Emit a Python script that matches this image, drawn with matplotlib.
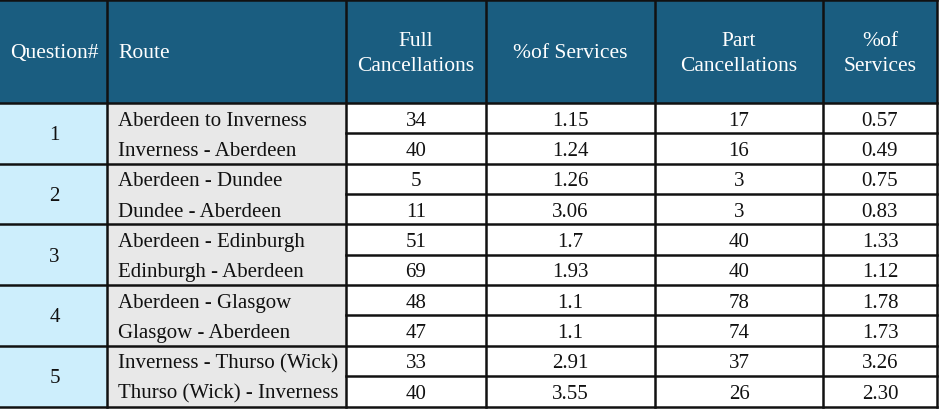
import matplotlib
matplotlib.use("Agg")
import matplotlib.pyplot as plt
from matplotlib.patches import Rectangle

questions = ["1", "2", "3", "4", "5"]
routes = ["Aberdeen to Inverness", "Inverness - Aberdeen",
          "Aberdeen - Dundee", "Dundee - Aberdeen",
          "Aberdeen - Edinburgh", "Edinburgh - Aberdeen",
          "Aberdeen - Glasgow", "Glasgow - Aberdeen",
          "Inverness - Thurso (Wick)", "Thurso (Wick) - Inverness"]
full_cancellations = ["34", "40", "5", "11", "51", "69", "48", "47", "33", "40"]
full_pct = ["1.15", "1.24", "1.26", "3.06", "1.7", "1.93", "1.1", "1.1", "2.91", "3.55"]
part_cancellations = ["17", "16", "3", "3", "40", "40", "78", "74", "37", "26"]
part_pct = ["0.57", "0.49", "0.75", "0.83", "1.33", "1.12", "1.78", "1.73", "3.26", "2.30"]
headers = ["Question#", "Route", "Full\nCancellations", "%of Services",
           "Part\nCancellations", "%of\nServices"]

W, H = 940, 410
fig = plt.figure(figsize=(W / 100, H / 100), dpi=100)
ax = fig.add_axes([0, 0, 1, 1])
ax.set_xlim(0, W)
ax.set_ylim(H, 0)
ax.axis("off")

font = ["Liberation Serif", "DejaVu Serif"]
col_x = [-2, 107, 346, 486, 655, 823, 937]
top, head_bot, bot = 0.5, 104, 407.5
nrows = len(routes)
rh = (bot - head_bot) / nrows

header_col = "#1a5d80"
q_col = "#cdeefc"
r_col = "#e8e8e8"
txt = "#111111"
lw = 1.8
hfs = 15.5
bfs = 15.0

# header
ax.add_patch(Rectangle((col_x[0], top), col_x[-1] - col_x[0], head_bot - top,
                       facecolor=header_col, edgecolor="none"))
for i, h in enumerate(headers):
    if i == 0:
        ax.text(10, head_bot / 2 + 1.5, h, color="white", fontsize=hfs, family=font,
                ha="left", va="center")
    elif i == 1:
        ax.text(118, head_bot / 2 + 1.5, h, color="white", fontsize=hfs, family=font,
                ha="left", va="center")
    else:
        cx = (col_x[i] + col_x[i + 1]) / 2
        ax.text(cx, head_bot / 2 + 2, h, color="white", fontsize=hfs, family=font,
                ha="center", va="center", linespacing=1.45, multialignment="center")

# body backgrounds
ax.add_patch(Rectangle((col_x[0], head_bot), col_x[1] - col_x[0], bot - head_bot,
                       facecolor=q_col, edgecolor="none"))
ax.add_patch(Rectangle((col_x[1], head_bot), col_x[2] - col_x[1], bot - head_bot,
                       facecolor=r_col, edgecolor="none"))

for g, q in enumerate(questions):
    yc = head_bot + (2 * g + 1) * rh
    ax.text((col_x[0] + col_x[1]) / 2 + 2, yc + 1.5, q, fontsize=bfs, family=font,
            ha="center", va="center", color=txt)

cols = [full_cancellations, full_pct, part_cancellations, part_pct]
for r in range(nrows):
    yc = head_bot + (r + 0.5) * rh
    ax.text(118, yc + 2, routes[r], fontsize=bfs, family=font, ha="left",
            va="center", color=txt)
    for c, vals in enumerate(cols):
        cx = (col_x[c + 2] + col_x[c + 3]) / 2
        ax.text(cx, yc + 2, vals[r], fontsize=bfs, family=font, ha="center",
                va="center", color=txt)

# grid lines
ax.plot([col_x[0], col_x[-1]], [top, top], color="#111111", lw=lw)
ax.plot([col_x[0], col_x[-1]], [head_bot, head_bot], color="#111111", lw=lw)
ax.plot([col_x[0], col_x[-1]], [bot, bot], color="#111111", lw=lw)
for r in range(1, nrows):
    y = head_bot + r * rh
    x0 = col_x[0] if r % 2 == 0 else col_x[2]
    ax.plot([x0, col_x[-1]], [y, y], color="#111111", lw=lw)
for x in col_x[1:]:
    ax.plot([x, x], [top, bot], color="#111111", lw=lw)

fig.savefig("out.png", dpi=100, facecolor="white")
